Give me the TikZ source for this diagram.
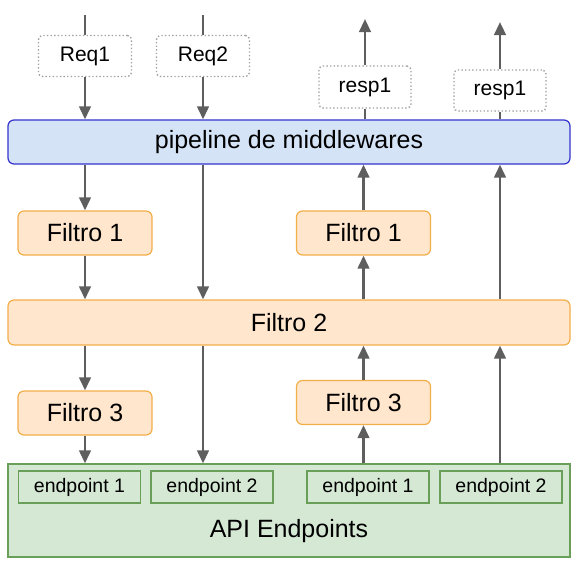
\documentclass[tikz,border=0pt]{standalone}
\usepackage{fontspec}
\setmainfont{Liberation Sans}
\usetikzlibrary{arrows.meta}
\definecolor{arrc}{HTML}{5E5E5E}
\definecolor{orfill}{HTML}{FFE6CC}
\definecolor{ordraw}{HTML}{F2AE49}
\definecolor{blfill}{HTML}{D4E3F5}
\definecolor{bldraw}{HTML}{3333CC}
\definecolor{grfill}{HTML}{D5E8D4}
\definecolor{grdraw}{HTML}{6A9F5A}
\definecolor{dotc}{HTML}{A0A0A0}
\tikzset{
  arr/.style={draw=arrc, line width=2.6pt, -{Triangle[length=13pt,width=11.5pt]}},
  plain/.style={draw=arrc, line width=2.6pt},
  msgbox/.style={draw=dotc, dash pattern=on 1.4pt off 2.2pt, line width=1.4pt, fill=white, rounded corners=4pt,
    inner sep=0pt, minimum width=93pt, minimum height=41pt, font=\fontsize{21}{24}\selectfont},
  filt/.style={draw=ordraw, fill=orfill, line width=1.2pt, rounded corners=6pt, inner sep=0pt,
    minimum width=134pt, minimum height=44pt, font=\fontsize{25}{28}\selectfont},
  wide/.style={line width=1.2pt, rounded corners=6pt, inner sep=0pt,
    minimum width=562pt, font=\fontsize{25}{28}\selectfont},
  endp/.style={draw=grdraw, fill=grfill, line width=1.2pt, inner sep=0pt,
    minimum width=122pt, minimum height=32pt, font=\fontsize{19.5}{22}\selectfont},
}
\begin{document}
\begin{tikzpicture}[x=1pt,y=-1pt]
\useasboundingbox (0,0) rectangle (577,565);
% main boxes
\node[wide, draw=bldraw, fill=blfill, minimum height=44pt] (pipe) at (289,142) {pipeline de middlewares};
\node[wide, draw=ordraw, fill=orfill, minimum height=45pt] (f2) at (289,322.5) {Filtro 2};
\node[draw=grdraw, fill=grfill, line width=1.2pt, inner sep=0pt, minimum width=562pt, minimum height=93pt] (api) at (289,510.5) {};
\node[font=\fontsize{25}{28}\selectfont] (apil) at (289,531) {API Endpoints};
\node[endp] (e1) at (79.5,487) {endpoint 1};
\node[endp] (e2) at (212,487) {endpoint 2};
\node[endp] (e3) at (368,487) {endpoint 1};
\node[endp] (e4) at (501,487) {endpoint 2};
\node[filt] (f1a) at (85,233) {Filtro 1};
\node[filt] (f1b) at (363.5,233) {Filtro 1};
\node[filt] (f3a) at (85,413) {Filtro 3};
\node[filt] (f3b) at (363.5,402.5) {Filtro 3};
% message boxes
\node[msgbox] (req1) at (85,56) {Req1};
\node[msgbox] (req2) at (203,56) {Req2};
\node[msgbox, minimum width=92pt, minimum height=42pt] (resp1) at (365,87) {resp1};
\node[msgbox, minimum width=92pt] (resp2) at (500,90.5) {resp1};
\coordinate (t1) at (85,15);
\coordinate (t2) at (203,15);
\coordinate (t3) at (365,19);
\coordinate (t4) at (500,22);
% column 1
\draw[plain] (t1) -- (req1);
\draw[arr] (req1) -- (req1 |- pipe.north);
\draw[arr] (f1a.north |- pipe.south) -- (f1a.north);
\draw[arr] (f1a.south) -- (f1a.south |- f2.north);
\draw[arr] (f3a.north |- f2.south) -- (f3a.north);
\draw[arr] (f3a.south) -- (f3a.south |- api.north);
% column 2
\draw[plain] (t2) -- (req2);
\draw[arr] (req2) -- (req2 |- pipe.north);
\draw[arr] (req2 |- pipe.south) -- (req2 |- f2.north);
\draw[arr] (req2 |- f2.south) -- (req2 |- api.north);
% column 3
\draw[arr] (f3b.south |- api.north) -- (f3b.south);
\draw[arr] (f3b.north) -- (f3b.north |- f2.south);
\draw[arr] (f1b.south |- f2.north) -- (f1b.south);
\draw[arr] (f1b.north) -- (f1b.north |- pipe.south);
\draw[plain] (resp1 |- pipe.north) -- (resp1);
\draw[arr] (resp1) -- (t3);
% column 4
\draw[arr] (resp2 |- api.north) -- (resp2 |- f2.south);
\draw[arr] (resp2 |- f2.north) -- (resp2 |- pipe.south);
\draw[plain] (resp2 |- pipe.north) -- (resp2);
\draw[arr] (resp2) -- (t4);
\end{tikzpicture}
\end{document}
